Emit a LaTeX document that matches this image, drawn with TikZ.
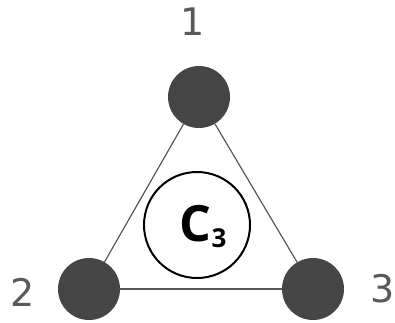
\documentclass[tikz,border=0pt]{standalone}
\usepackage{fontspec}
\setmainfont{DejaVu Sans}
\newfontfamily\labelfont{DejaVu Sans ExtraLight}
\newfontfamily\symfont{Open Sans}[UprightFont=* Bold]
\begin{document}
\begin{tikzpicture}[x=1pt,y=-1pt,
  site/.style={circle,fill=black!73,minimum size=62pt,inner sep=0pt},
  edge/.style={draw=black!65,line width=1.2pt},
  tag/.style={text=black!65,font=\fontsize{38}{38}\selectfont,inner sep=0pt},
  axis/.style={circle,draw=black,line width=2pt,minimum size=106pt,inner sep=0pt}]
  \useasboundingbox (0,0) rectangle (395,322);
  % three equivalent sites
  \node[site] (s1) at (199,97) {};
  \node[site] (s2) at (89,289) {};
  \node[site] (s3) at (313,289) {};
  % bonds between sites
  \draw[edge] (s1) -- (s2);
  \draw[edge] (s2) -- (s3);
  \draw[edge] (s3) -- (s1);
  % site numbers
  \node[tag] (l1) at (193,22) {1};
  \node[tag] (l2) at (23,292) {2};
  \node[tag,anchor=east] (l3) at (394.5,289) {3};
  % threefold rotation axis
  \node[axis] (c3) at (197,225) {};
  \node (sym) at (203,227) {\symfont\fontsize{50}{50}\selectfont C\raisebox{-6pt}{\fontsize{26}{26}\selectfont 3}};
\end{tikzpicture}
\end{document}
